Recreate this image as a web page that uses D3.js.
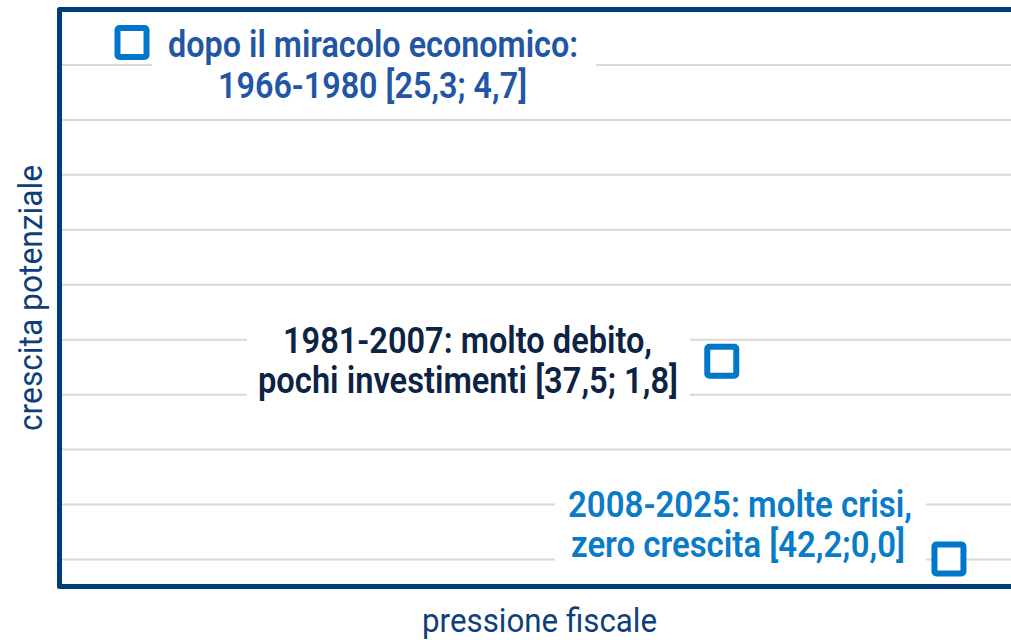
<!DOCTYPE html>
<html>
<head>
<meta charset="utf-8">
<script src="https://cdn.jsdelivr.net/npm/d3@7"></script>
<style>
  body { margin: 0; background: #fff; }
  svg { display: block; }
  text { font-family: Roboto, "Noto Sans", sans-serif; }
</style>
</head>
<body>
<svg id="chart"></svg>
<script>
// data
const periods = ['1966-1980', '1981-2007', '2008-2025'];
const pressione = [25.3, 37.5, 42.2];   // pressione fiscale
const crescita = [4.7, 1.8, 0.0];       // crescita potenziale
const labelLines = [
  ['dopo il miracolo economico:', '1966-1980 [25,3; 4,7]'],
  ['1981-2007: molto debito,', 'pochi investimenti [37,5; 1,8]'],
  ['2008-2025: molte crisi,', 'zero crescita [42,2;0,0]']
];
const gridTicks = [0, 0.5, 1, 1.5, 2, 2.5, 3, 3.5, 4, 4.5];
const xTitle = 'pressione fiscale';
const yTitle = 'crescita potenziale';

// layout of the annotation boxes (pixels)
const labelLayout = [
  { color: '#2256a4', box: [152, 28, 596, 108], lines: [[168, 410, 57], [218, 309, 98]] },
  { color: '#0c2344', box: [247, 318, 690, 408], lines: [[283, 369, 353], [258, 420, 393]] },
  { color: '#0a7bc8', box: [555, 482, 926, 572], lines: [[568, 344, 517], [571, 334, 557]] }
];

const W = 1011, H = 640;
const plotLeft = 59.5, plotTop = 9.5, plotBottom = 586.5;

const svg = d3.select('#chart').attr('width', W).attr('height', H);

const x = d3.scaleLinear().domain([23.8, 43.5]).range([plotLeft, plotLeft + 19.7 * 48.34]);
const y = d3.scaleLinear().domain([-0.25, 5]).range([plotBottom, plotTop]);

const points = periods.map((p, i) => ({ period: p, x: pressione[i], y: crescita[i], lines: labelLines[i] }));

// gridlines
const grid = svg.append('g')
  .attr('transform', `translate(${plotLeft},0)`)
  .call(d3.axisLeft(y).tickValues(gridTicks).tickSize(-(W - plotLeft)).tickFormat(''));
grid.select('.domain').remove();
grid.selectAll('.tick line').attr('stroke', '#d9d9d9').attr('stroke-width', 2);

// white boxes behind the labels
svg.selectAll('rect.box')
  .data(labelLayout)
  .enter().append('rect')
  .attr('class', 'box')
  .attr('x', d => d.box[0]).attr('y', d => d.box[1])
  .attr('width', d => d.box[2] - d.box[0]).attr('height', d => d.box[3] - d.box[1])
  .attr('fill', '#fff');

// labels
points.forEach((pt, i) => {
  const lay = labelLayout[i];
  pt.lines.forEach((line, j) => {
    const [lx, lw, lb] = lay.lines[j];
    svg.append('text')
      .attr('x', lx).attr('y', lb)
      .attr('textLength', lw)
      .attr('lengthAdjust', 'spacingAndGlyphs')
      .attr('font-size', 37)
      .attr('font-weight', 600)
      .attr('fill', lay.color)
      .text(line);
  });
});

// frame
svg.append('path')
  .attr('d', `M${W},${plotTop}H${plotLeft}V${plotBottom}H${W}`)
  .attr('fill', 'none')
  .attr('stroke', '#003c78')
  .attr('stroke-width', 5)
  .attr('stroke-linejoin', 'round');

// markers
const S = 29;
svg.selectAll('rect.pt')
  .data(points)
  .enter().append('rect')
  .attr('class', 'pt')
  .attr('x', d => x(d.x) - S / 2)
  .attr('y', d => y(d.y) - S / 2)
  .attr('width', S).attr('height', S)
  .attr('rx', 2)
  .attr('fill', '#fff')
  .attr('stroke', '#0077c8')
  .attr('stroke-width', 6);

// axis titles
svg.append('text')
  .attr('x', 422).attr('y', 632)
  .attr('textLength', 235)
  .attr('lengthAdjust', 'spacingAndGlyphs')
  .attr('font-size', 33)
  .attr('fill', '#0f3f7a')
  .text(xTitle);

svg.append('text')
  .attr('transform', 'translate(42,431) rotate(-90)')
  .attr('textLength', 266)
  .attr('lengthAdjust', 'spacingAndGlyphs')
  .attr('font-size', 33)
  .attr('fill', '#0f3f7a')
  .text(yTitle);
</script>
</body>
</html>
